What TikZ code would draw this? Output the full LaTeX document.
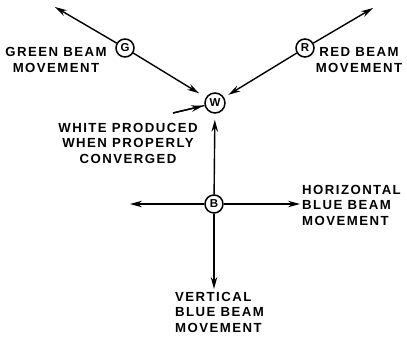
\documentclass[tikz,border=0pt]{standalone}
\usepackage{fontspec}
\setmainfont{Liberation Sans}[LetterSpace=11]
\usetikzlibrary{arrows.meta,calc}

\begin{document}
\begin{tikzpicture}[x=1pt, y=-1pt,
        gun/.style={circle, draw, line width=1.5pt, inner sep=0pt, minimum size=18pt, font=\bfseries\fontsize{11.5}{11.5}\selectfont},
        caption/.style={font=\bfseries\fontsize{13.2}{15.5}\selectfont, inner sep=0pt},
        beam/.style={line width=1.4pt, -{Stealth[length=12pt,width=6.5pt]}}]
        \useasboundingbox (0,0) rectangle (407,341);
        % beam spots
        \node (G) at (125, 48) [gun] {G};
        \node (R) at (305, 48) [gun] {R};
        \node (W) at (215, 103) [gun, minimum size=20pt] {W};
        \node (B) at (214, 204) [gun] {B};
        % free ends
        \coordinate (gtop) at (55, 7);
        \coordinate (rtop) at (373, 8);
        \coordinate (win) at (173, 113);
        \coordinate (bleft) at (130, 204);
        \coordinate (bright) at (300, 204);
        \coordinate (bdown) at (214, 289);
        % connectors
        \draw [beam] (G) -- (gtop);
        \draw [beam, shorten >=8pt] (G) -- (W);
        \draw [beam] (R) -- (rtop);
        \draw [beam, shorten >=5pt] (R) -- (W);
        \draw [line width=1.4pt] (win) -- (W);
        \draw [beam] (win) -- ($(win)!0.72!(W)$);
        \draw [beam, shorten >=6pt] (B) -- (W);
        \draw [beam] (B) -- (bleft);
        \draw [beam] (B) -- (bright);
        \draw [beam] (B) -- (bdown);
        % labels
        \node (greentext) at (56, 60) [caption, align=center] {GREEN BEAM\\MOVEMENT};
        \node (redtext) at (359, 60) [caption, align=center] {RED BEAM\\MOVEMENT};
        \node (whitetext) at (128, 143) [caption, align=center] {WHITE PRODUCED\\WHEN PROPERLY\\CONVERGED};
        \node (horiztext) at (302, 205) [caption, anchor=west, align=left] {HORIZONTAL\\BLUE BEAM\\MOVEMENT};
        \node (verttext) at (175, 292) [caption, anchor=north west, align=left] {VERTICAL\\BLUE BEAM\\MOVEMENT};
    \end{tikzpicture}
\end{document}
